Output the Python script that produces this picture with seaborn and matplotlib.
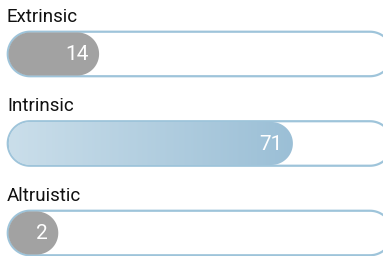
import numpy as np
import matplotlib
matplotlib.use('Agg')
import matplotlib.pyplot as plt
from matplotlib.patches import Polygon
from matplotlib.colors import LinearSegmentedColormap
import seaborn as sns

# data
categories = ['Extrinsic', 'Intrinsic', 'Altruistic']
values = [14, 71, 2]
max_value = 100
gradient_bars = ['Intrinsic']

sns.set_theme(style='white')
plt.rcParams['font.family'] = ['Roboto', 'DejaVu Sans']

fig, ax = plt.subplots(figsize=(3.83, 2.56), dpi=100)
ax.set_position([0, 0, 1, 1])

sns.barplot(x=values, y=categories, orient='h', width=0.5, ax=ax)

# pixel scale of the axes
px_per_x = 3.4
px_per_y = 89.5
x0_px = 30
xlim = (-x0_px / px_per_x, (383 - x0_px) / px_per_x)
ylim = (2.257, -0.603)

outline = '#9ec4da'
gray = '#a2a2a2'
grad = LinearSegmentedColormap.from_list('g', ['#cadeea', '#9bbfd6'])


def pill(x_start, x_end, yc, h_px):
    # capsule shape: round ends of radius h/2 (in pixels) around x_start..x_end
    r = h_px / 2
    t = np.linspace(np.pi / 2, 3 * np.pi / 2, 40)
    left = np.c_[x_start + r / px_per_x * np.cos(t), yc + r / px_per_y * np.sin(t)]
    t = np.linspace(-np.pi / 2, np.pi / 2, 40)
    right = np.c_[x_end + r / px_per_x * np.cos(t), yc + r / px_per_y * np.sin(t)]
    return np.vstack([left, right])


bars = list(ax.patches)
for bar, cat, val in zip(bars, categories, values):
    bar.set_visible(False)
    yc = bar.get_y() + bar.get_height() / 2

    # track
    track = Polygon(pill(0, max_value, yc, 44.5), closed=True, fc='white',
                    ec=outline, lw=1.6, zorder=2)
    ax.add_patch(track)

    # filled pill
    fill = Polygon(pill(0, val, yc, 43), closed=True, lw=0, zorder=3)
    if cat in gradient_bars:
        fill.set_facecolor('none')
        ax.add_patch(fill)
        r = 21.5 / px_per_x
        im = ax.imshow(np.linspace(0, 1, 256)[None, :], cmap=grad, aspect='auto',
                       extent=(-r, val + r, yc + 0.3, yc - 0.3), zorder=3)
        im.set_clip_path(fill)
    else:
        fill.set_facecolor(gray)
        ax.add_patch(fill)

    ax.text(val + 11 / px_per_x, yc + 0.01, str(val), ha='right', va='center',
            color='white', fontsize=15, zorder=4)
    ax.text(xlim[0] + 7 / px_per_x, yc - 0.415, cat, ha='left', va='center',
            color='#111111', fontsize=13.5, zorder=4)

ax.set_xlim(*xlim)
ax.set_ylim(*ylim)
ax.axis('off')

fig.savefig('out.png', dpi=100)
